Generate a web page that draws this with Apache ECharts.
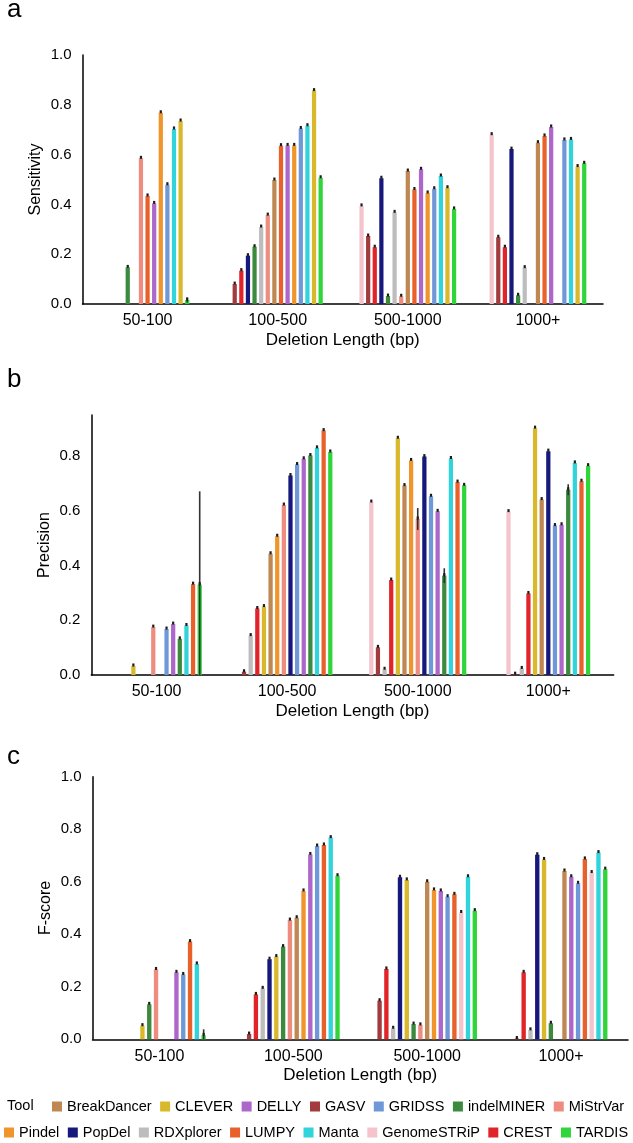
<!DOCTYPE html>
<html>
<head>
<meta charset="utf-8">
<script src="https://cdn.jsdelivr.net/npm/echarts@6/dist/echarts.min.js"></script>
<style>
  html, body { margin: 0; padding: 0; background: #fff; }
  #chart { width: 633px; height: 1143px; }
</style>
</head>
<body>
<div id="chart"></div>
<script>
// categories on the x axis
const categories = ['50-100', '100-500', '500-1000', '1000+'];

// tools and their colours
const tools = ['BreakDancer', 'CLEVER', 'DELLY', 'GASV', 'GRIDSS', 'indelMINER', 'MiStrVar',
  'Pindel', 'PopDel', 'RDXplorer', 'LUMPY', 'Manta', 'GenomeSTRiP', 'CREST', 'TARDIS'];
const toolColors = ['#BF8852', '#D9B82C', '#AD66C9', '#A13B3D', '#6F98D9', '#3B8A3E', '#EF8C80',
  '#F0952C', '#17187C', '#BDBDBD', '#E9612A', '#31D4DA', '#F5C3CC', '#E0242A', '#30D53A'];
const legendRow1 = ['BreakDancer', 'CLEVER', 'DELLY', 'GASV', 'GRIDSS', 'indelMINER', 'MiStrVar'];
const legendRow2 = ['Pindel', 'PopDel', 'RDXplorer', 'LUMPY', 'Manta', 'GenomeSTRiP', 'CREST', 'TARDIS'];

// a: Sensitivity (null = no bar in that group)
const sensOrder = ['GenomeSTRiP', 'GASV', 'CREST', 'PopDel', 'indelMINER', 'RDXplorer', 'MiStrVar',
  'BreakDancer', 'LUMPY', 'DELLY', 'Pindel', 'GRIDSS', 'Manta', 'CLEVER', 'TARDIS'];
const sensValues = [
  [null, null, 0.394, 0.680],
  [0, 0.080, 0.273, 0.268],
  [0, 0.134, 0.228, 0.228],
  [0, 0.194, 0.505, 0.622],
  [0.147, 0.230, 0.032, 0.035],
  [0, 0.309, 0.368, 0.146],
  [0.585, 0.357, 0.031, 0],
  [null, 0.498, 0.534, 0.648],
  [0.434, 0.636, 0.460, 0.675],
  [0.404, 0.637, 0.541, 0.711],
  [0.768, 0.637, 0.446, 0],
  [0.479, 0.705, 0.463, 0.659],
  [0.703, 0.716, 0.514, 0.661],
  [0.735, 0.857, 0.467, 0.552],
  [0.016, 0.507, 0.382, 0.565]
];
const sensErrors = [['TARDIS', 0, 0.010]];

// b: Precision
const precOrder = ['GenomeSTRiP', 'GASV', 'RDXplorer', 'CREST', 'CLEVER', 'BreakDancer', 'Pindel',
  'MiStrVar', 'PopDel', 'GRIDSS', 'DELLY', 'indelMINER', 'Manta', 'LUMPY', 'TARDIS'];
const precValues = [
  [null, null, 0.632, 0.597],
  [0, 0.012, 0.101, 0.003],
  [0, 0.144, 0.021, 0.024],
  [0, 0.243, 0.347, 0.298],
  [0.033, 0.250, 0.865, 0.902],
  [0, 0.443, 0.692, 0.641],
  [0, 0.507, 0.784, null],
  [0.175, 0.621, 0.570, null],
  [0, 0.729, 0.798, 0.818],
  [0.168, 0.769, 0.653, 0.546],
  [0.186, 0.790, 0.598, 0.549],
  [0.132, 0.802, 0.363, 0.677],
  [0.181, 0.830, 0.791, 0.775],
  [0.332, 0.893, 0.705, 0.708],
  [0.330, 0.815, 0.693, 0.765]
];
const precErrors = [['TARDIS', 0, 0.341], ['MiStrVar', 2, 0.040], ['indelMINER', 2, 0.027], ['indelMINER', 3, 0.020]];

// c: F-score
const fOrder = ['GASV', 'CREST', 'RDXplorer', 'PopDel', 'CLEVER', 'indelMINER', 'MiStrVar',
  'BreakDancer', 'Pindel', 'DELLY', 'GRIDSS', 'LUMPY', 'GenomeSTRiP', 'Manta', 'TARDIS'];
const fValues = [
  [0, 0.020, 0.147, 0.003],
  [0, 0.171, 0.268, 0.255],
  [0, 0.194, 0.042, 0.036],
  [0, 0.305, 0.617, 0.703],
  [0.052, 0.315, 0.607, 0.685],
  [0.133, 0.353, 0.058, 0.061],
  [0.266, 0.454, 0.055, 0],
  [0, 0.463, 0.600, 0.641],
  [0, 0.565, 0.569, null],
  [0.255, 0.704, 0.565, 0.619],
  [0.247, 0.736, 0.543, 0.594],
  [0.372, 0.740, 0.552, 0.687],
  [null, null, 0.483, 0.635],
  [0.287, 0.768, 0.619, 0.711],
  [0.015, 0.623, 0.490, 0.648]
];
const fErrors = [['TARDIS', 0, 0.023]];

const FONT = '"Liberation Sans", Arial, Helvetica, sans-serif';
const colorOf = name => toolColors[tools.indexOf(name)];

// one custom series per tool; bars are dodged among the tools present in each group
function panelSeries(order, values, errors, idx) {
  return order.map((tool, t) => {
    const data = [];
    values[t].forEach((v, j) => {
      if (v === null) return;
      const err = errors.find(e => e[0] === tool && e[1] === j);
      data.push([j, v, err ? err[2] : 0]);
    });
    return {
      type: 'custom',
      name: tool,
      xAxisIndex: idx,
      yAxisIndex: idx,
      itemStyle: { color: colorOf(tool) },
      encode: { x: 0, y: 1 },
      data: data,
      renderItem: (params, api) => {
        const j = api.value(0);
        const v = api.value(1);
        const e = api.value(2);
        const present = [];
        values.forEach((row, k) => { if (row[j] !== null) present.push(k); });
        const rank = present.indexOf(t);
        const n = present.length;
        const band = api.size([1, 0])[0];
        const slot = band * 0.0508;
        const base = api.coord([j, 0]);
        const top = api.coord([j, v]);
        const cx = base[0] + (rank - (n - 1) / 2) * slot;
        const bw = slot * 0.64;
        const children = [{
          type: 'rect',
          shape: { x: cx - bw / 2, y: top[1], width: bw, height: base[1] - top[1] },
          style: { fill: api.visual('color') }
        }];
        if (e > 0) {
          const lo = api.coord([j, Math.max(0, v - e)]);
          const hi = api.coord([j, v + e]);
          children.push({
            type: 'line',
            shape: { x1: cx, y1: lo[1], x2: cx, y2: hi[1] },
            style: { stroke: '#333', lineWidth: 1.6 }
          });
        }
        // small dark cap on top of each non-zero bar
        if (v > 0) {
          children.push({
            type: 'rect',
            shape: { x: cx - 1.1, y: top[1] - 2.5, width: 2.2, height: 3 },
            style: { fill: '#1c1c1c' }
          });
        }
        return { type: 'group', children: children };
      }
    };
  });
}

const chart = echarts.init(document.getElementById('chart'));

const axisLine = { show: true, lineStyle: { color: '#000', width: 1.5 } };
function xAxisFor(idx) {
  return {
    gridIndex: idx, type: 'category', data: categories,
    axisLine: axisLine, axisTick: { show: false },
    axisLabel: { fontSize: 16, color: '#000', margin: 9, fontFamily: FONT },
    name: 'Deletion Length (bp)', nameLocation: 'middle', nameGap: 28, nameMoveOverlap: false,
    nameTextStyle: { fontSize: 17, color: '#000', fontFamily: FONT }
  };
}
function yAxisFor(idx, name, max, showMax) {
  return {
    gridIndex: idx, type: 'value', min: 0, max: max, interval: 0.2,
    axisLine: axisLine, axisTick: { show: false }, splitLine: { show: false },
    axisLabel: { fontSize: 15, color: '#000', margin: 11, fontFamily: FONT,
      showMaxLabel: showMax, formatter: v => v.toFixed(1) },
    name: name, nameLocation: 'middle', nameGap: 39, nameMoveOverlap: false,
    nameTextStyle: { fontSize: 16, color: '#000', fontFamily: FONT }
  };
}
function legendFor(names, left, top) {
  return {
    data: names.map(nm => ({ name: nm, icon: 'rect', itemStyle: { color: colorOf(nm) } })),
    left: left, top: top, padding: 0, itemGap: 8.5,
    itemWidth: 10, itemHeight: 10, selectedMode: false,
    textStyle: { fontSize: 14.5, color: '#000', fontFamily: FONT }
  };
}
function letter(txt, y) {
  return { type: 'text', left: 7, top: y,
    style: { text: txt, font: '26px ' + FONT, fill: '#000' } };
}

const option = {
  animation: false,
  textStyle: { fontFamily: FONT },
  grid: [
    { left: 82.5, right: 30, top: 55, bottom: 839 },
    { left: 91.3, right: 19.4, top: 415, bottom: 468 },
    { left: 92.5, right: 5, top: 776.7, bottom: 103.7 }
  ],
  xAxis: [xAxisFor(0), xAxisFor(1), xAxisFor(2)],
  yAxis: [
    yAxisFor(0, 'Sensitivity', 1, true),
    yAxisFor(1, 'Precision', 0.95, false),
    yAxisFor(2, 'F-score', 1, true)
  ],
  legend: [legendFor(legendRow1, 52, 1099), legendFor(legendRow2, 4, 1125)],
  graphic: [
    letter('a', -3),
    letter('b', 367),
    letter('c', 744),
    { type: 'text', left: 7, top: 1098, style: { text: 'Tool', font: '14.5px ' + FONT, fill: '#000' } }
  ],
  series: [].concat(
    panelSeries(sensOrder, sensValues, sensErrors, 0),
    panelSeries(precOrder, precValues, precErrors, 1),
    panelSeries(fOrder, fValues, fErrors, 2)
  )
};

chart.setOption(option);
</script>
</body>
</html>
